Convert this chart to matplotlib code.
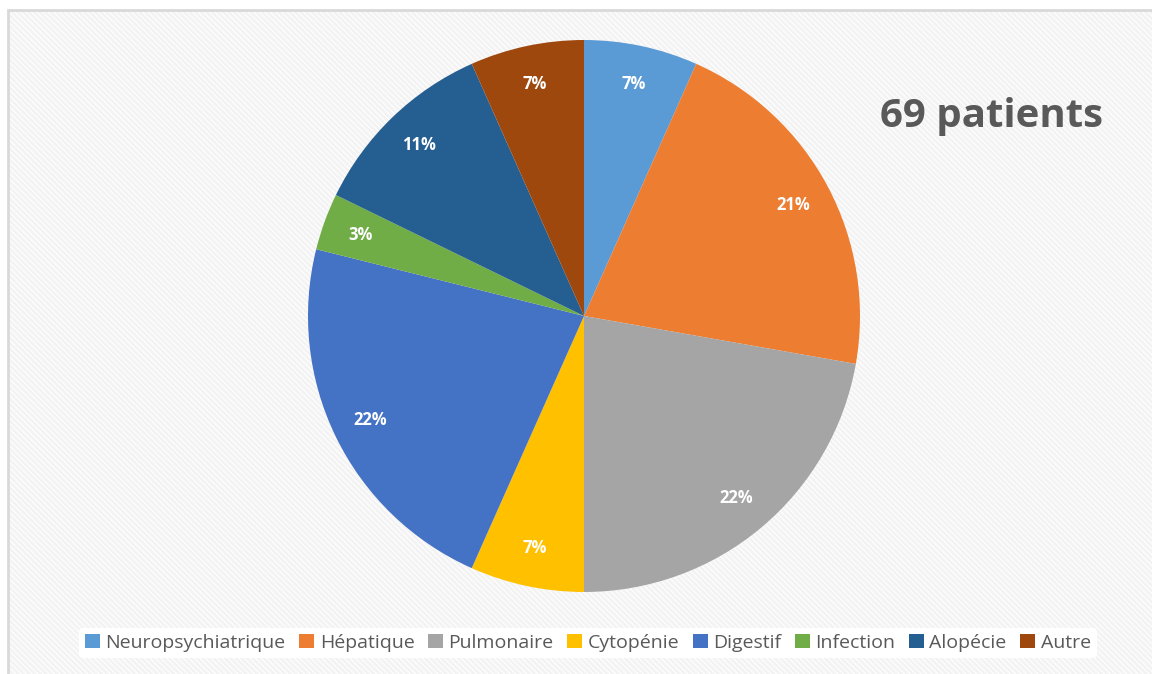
import matplotlib.pyplot as plt
from matplotlib.patches import Rectangle

# Data (counts, 90 events in total)
categories = ["Neuropsychiatrique", "Hépatique", "Pulmonaire", "Cytopénie",
              "Digestif", "Infection", "Alopécie", "Autre"]
values = [6, 19, 20, 6, 20, 3, 10, 6]
colors = ["#5B9BD5", "#ED7D31", "#A5A5A5", "#FFC000",
          "#4472C4", "#70AD47", "#255E91", "#9E480E"]
title = "69 patients"

W, H = 1152, 674
plt.rcParams["font.family"] = ["Open Sans", "DejaVu Sans"]
plt.rcParams["hatch.linewidth"] = 2.0

fig = plt.figure(figsize=(W / 100, H / 100), dpi=100)
fig.patch.set_facecolor("white")

# striped chart background + frame
bg = Rectangle((8 / W, 0), 1, 1 - 10 / H, transform=fig.transFigure,
               facecolor="white", edgecolor="#F3F3F3", hatch="\\" * 6,
               linewidth=0, zorder=-2)
fig.patches.append(bg)
frame = Rectangle((8 / W, -0.01), 1, 1 - 10 / H + 0.01, transform=fig.transFigure,
                  facecolor="none", edgecolor="#D9D9D9", linewidth=2, zorder=-1)
fig.patches.append(frame)

# pie: centre (584, 316) px, radius 276 px
cx, cy, r = 584, 316, 276
ax = fig.add_axes([(cx - r) / W, (H - cy - r) / H, 2 * r / W, 2 * r / H])
ax.set_zorder(2)
ax.set_facecolor("none")
wedges, texts, autotexts = ax.pie(
    values, colors=colors, startangle=90, counterclock=False,
    autopct=lambda p: f"{p:.0f}%", pctdistance=0.86, radius=1,
    wedgeprops=dict(linewidth=0),
    textprops=dict(color="white", fontsize=12, fontweight="bold"))
ax.set_xlim(-1, 1)
ax.set_ylim(-1, 1)
ax.set_aspect("equal")

fig.text(991 / W, 1 - 116 / H, title, ha="center", va="center",
         fontsize=29, fontweight="bold", color="#595959", zorder=3)

leg = fig.legend(wedges, categories, loc="center", ncol=8,
                 bbox_to_anchor=(588 / W, 1 - 643 / H), frameon=True,
                 fontsize=14, handlelength=0.75, handleheight=0.75,
                 handletextpad=0.3, columnspacing=0.7, borderpad=0.3)
leg.set_zorder(3)
leg.get_frame().set_facecolor("white")
leg.get_frame().set_edgecolor("none")
leg.get_frame().set_alpha(1)
for t in leg.get_texts():
    t.set_color("#595959")

fig.savefig("out.png", dpi=100)
